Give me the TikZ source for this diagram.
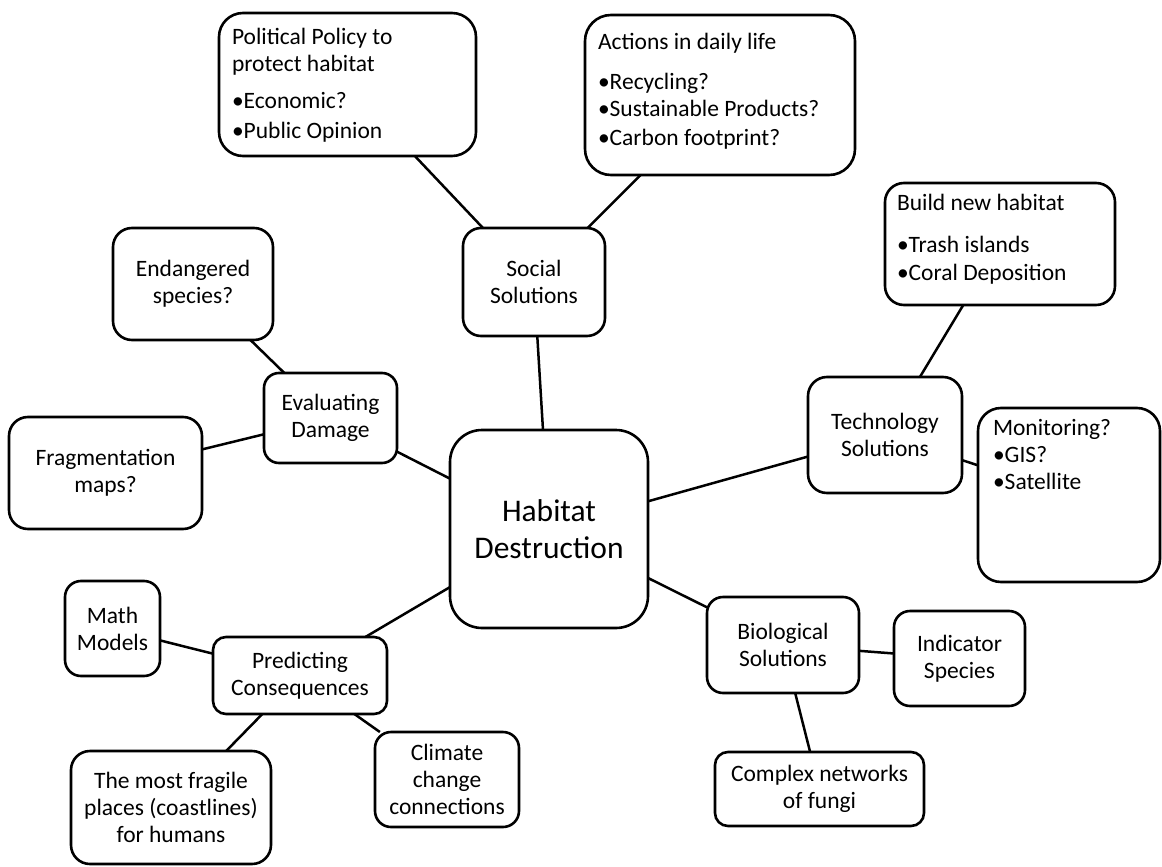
\documentclass[tikz,border=0pt]{standalone}
\usepackage{fontspec}
\setmainfont{Carlito}
\begin{document}
\begin{tikzpicture}[x=1pt,y=-1pt,
  box/.style={draw, line width=2.6pt, rounded corners=#1, inner sep=0pt, outer sep=0pt,
    align=center, font=\fontsize{23.5}{27}\selectfont},
  box/.default=16pt,
  sz/.style 2 args={minimum width=#1pt, minimum height=#2pt},
  txt/.style={anchor=north west, inner sep=0pt, outer sep=0pt, align=left,
    font=\fontsize{23.5}{27}\selectfont},
  conn/.style={line width=2.5pt}]
\useasboundingbox (0,0) rectangle (1162,867);
% central node
\node[box=32pt, sz={198}{198}, font=\fontsize{31.5}{37}\selectfont] (hab) at (549,529) {Habitat\\Destruction};
% social
\node[box=18pt, sz={142}{108}] (soc) at (534,282) {Social\\Solutions};
\node[box=24pt, sz={257}{143}] (pol) at (347.5,84.5) {};
\node[box=26pt, sz={270}{160}] (act) at (720,95) {};
% technology
\node[box=19pt, sz={154}{116}] (tec) at (885,435) {Technology\\Solutions};
\node[box=19pt, sz={230}{122}] (bld) at (1000,244) {};
\node[box=23pt, sz={182}{174}] (mon) at (1069,495) {};
% biological
\node[box=16pt, sz={152}{96}] (bio) at (783,645) {Biological\\Solutions};
\node[box=16pt, sz={131}{95}] (ind) at (959.5,658.5) {Indicator\\Species};
\node[box=13pt, sz={209}{74}] (cpx) at (819.5,789) {Complex networks\\of fungi};
% predicting
\node[box=13pt, sz={174}{77}] (pre) at (300,675.5) {Predicting\\Consequences};
\node[box=16pt, sz={95}{95}] (mat) at (112.5,628.5) {Math\\Models};
\node[box=19pt, sz={200}{113}] (frl) at (171,807.5) {The most fragile\\places (coastlines)\\for humans};
\node[box=16pt, sz={144}{95}] (cli) at (447,779.5) {Climate\\change\\connections};
% evaluating
\node[box=15pt, sz={133}{90}] (eva) at (330.5,418) {Evaluating\\Damage};
\node[box=19pt, sz={160}{112}] (end) at (193,284) {Endangered\\species?};
\node[box=19pt, sz={193}{112}] (frg) at (105.5,473) {Fragmentation\\maps?};
% top-aligned texts
\node[txt] (poltxt) at (232,28) {Political Policy to\\protect habitat\\[10pt]•Economic?\\[3pt]•Public Opinion};
\node[txt] (acttxt) at (598,33) {Actions in daily life\\[13pt]•Recycling?\\•Sustainable Products?\\[2pt]•Carbon footprint?};
\node[txt] (bldtxt) at (897,194) {Build new habitat\\[15pt]•Trash islands\\[1pt]•Coral Deposition};
\node[txt] (montxt) at (993,419) {Monitoring?\\•GIS?\\•Satellite};
% connectors
\draw[conn] (hab) -- (soc);
\draw[conn] (soc) -- (pol);
\draw[conn] (soc) -- (act);
\draw[conn] (hab) -- (tec);
\draw[conn] (tec) -- (bld);
\draw[conn] (tec) -- (mon);
\draw[conn] (hab) -- (bio);
\draw[conn] (bio) -- (ind);
\draw[conn] (bio) -- (cpx);
\draw[conn] (hab) -- (pre);
\draw[conn] (pre) -- (mat);
\draw[conn] (pre) -- (frl);
\draw[conn] (pre) -- (cli);
\draw[conn] (hab) -- (eva);
\draw[conn] (eva) -- (end);
\draw[conn] (eva) -- (frg);
\end{tikzpicture}
\end{document}
